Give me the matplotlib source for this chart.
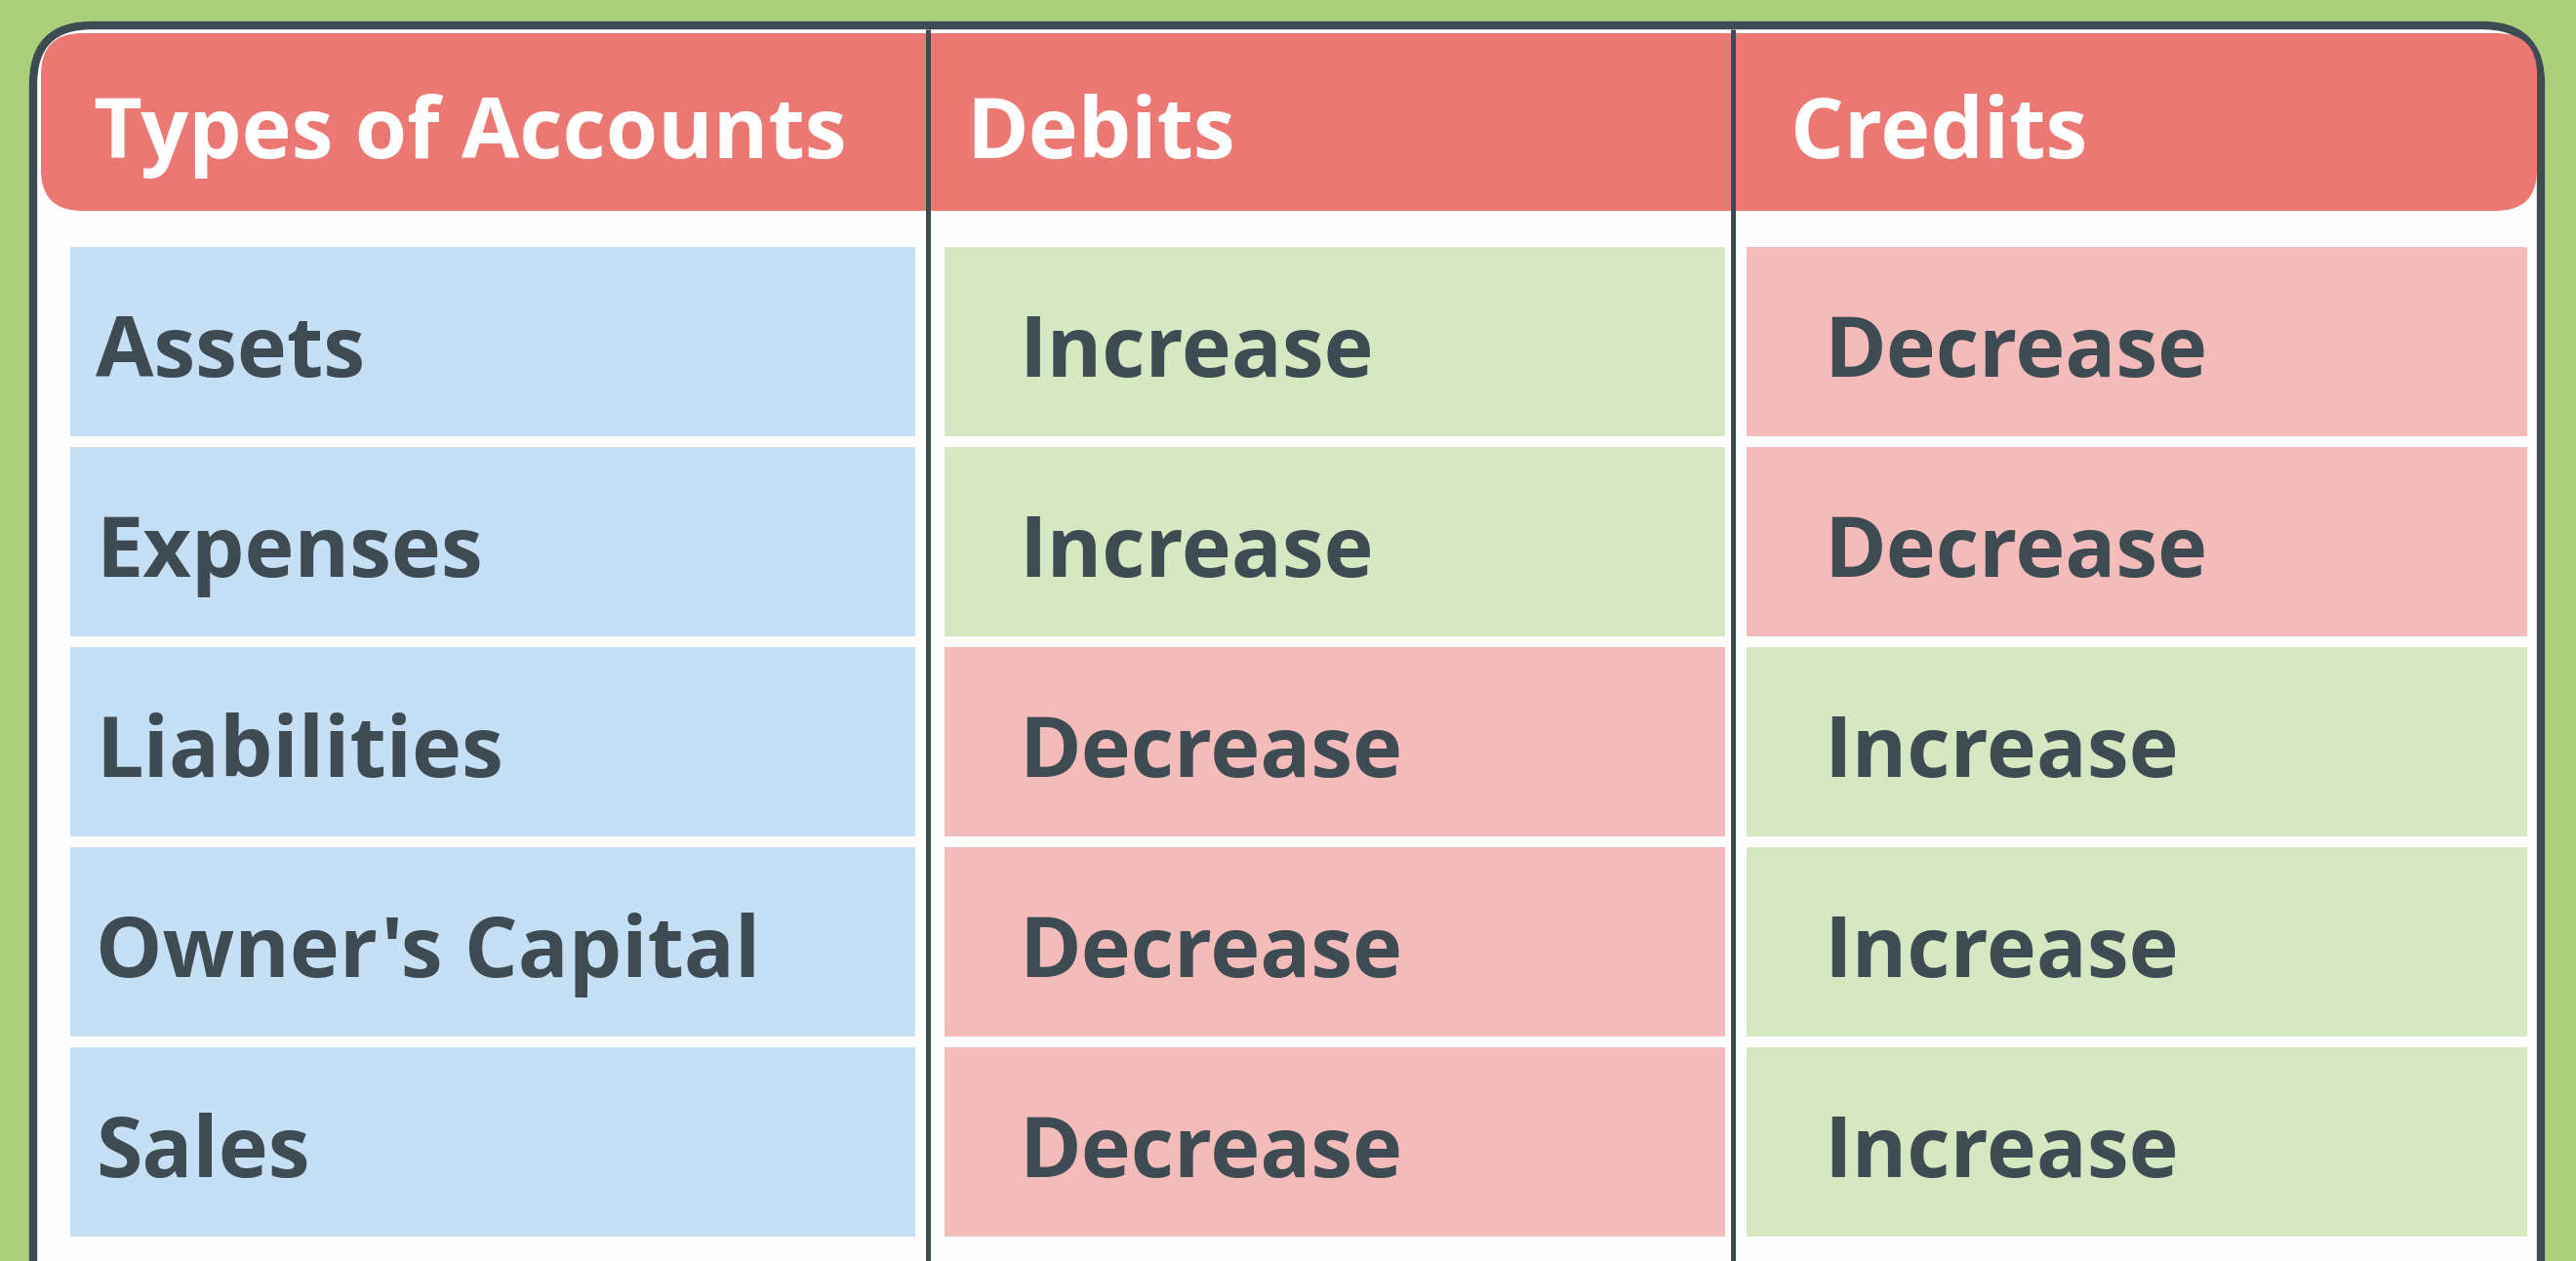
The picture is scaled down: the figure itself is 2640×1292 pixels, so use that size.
import matplotlib
matplotlib.use("Agg")
import matplotlib.pyplot as plt
from matplotlib.patches import FancyBboxPatch, Rectangle

# table content
headers = ["Types of Accounts", "Debits", "Credits"]
account_types = ["Assets", "Expenses", "Liabilities", "Owner's Capital", "Sales"]
debit_effect = ["Increase", "Increase", "Decrease", "Decrease", "Decrease"]
credit_effect = ["Decrease", "Decrease", "Increase", "Increase", "Increase"]

# styling
BG_GREEN = "#abd07b"
FRAME = "#3e4b52"
HEADER_RED = "#ec7873"
TEXT_DARK = "#3e4b53"
CELL_BLUE = "#c5dff4"
CELL_GREEN = "#d6e8c1"
CELL_RED = "#f3bbb9"
effect_colors = {"Increase": CELL_GREEN, "Decrease": CELL_RED}
FONT = "Open Sans"
FSIZE = 62

W, H = 2640, 1292
fig = plt.figure(figsize=(W / 100, H / 100), dpi=100)
fig.patch.set_facecolor(BG_GREEN)
ax = fig.add_axes([0, 0, 1, 1])
ax.set_xlim(0, W)
ax.set_ylim(H, 0)
ax.axis("off")

# outer frame (bottom runs off the picture)
ax.add_patch(FancyBboxPatch((34, 26), 2570, 1400,
                            boxstyle="round,pad=0,rounding_size=60",
                            facecolor="#fdfdfd", edgecolor=FRAME,
                            linewidth=6, zorder=1))

# header band
ax.add_patch(FancyBboxPatch((42, 34), 2558, 182,
                            boxstyle="round,pad=0,rounding_size=42",
                            facecolor=HEADER_RED, edgecolor="none", zorder=2))

col_x = [72, 968, 1790]
col_w = [866, 800, 800]
text_x = [98, 1044, 1869]
header_x = [96, 990, 1835]
row_top0, row_pitch, row_h = 253, 205, 194

for hx, label in zip(header_x, headers):
    ax.text(hx, 162, label, color="white", fontsize=FSIZE, fontweight="bold",
            family=FONT, va="baseline", ha="left", zorder=4)

columns = [account_types, debit_effect, credit_effect]
for c, values in enumerate(columns):
    for r, val in enumerate(values):
        top = row_top0 + r * row_pitch
        color = CELL_BLUE if c == 0 else effect_colors[val]
        ax.add_patch(Rectangle((col_x[c], top), col_w[c], row_h,
                               facecolor=color, edgecolor="none", zorder=2))
        ax.text(text_x[c], top + row_h / 2 + 36, val, color=TEXT_DARK,
                fontsize=FSIZE, fontweight="bold", family=FONT,
                va="baseline", ha="left", zorder=4)

# column dividers
for dx in [951, 1776]:
    ax.plot([dx, dx], [30, H], color=FRAME, linewidth=3.6, zorder=3,
            solid_capstyle="butt")

fig.savefig("out.png", dpi=100, facecolor=BG_GREEN)
